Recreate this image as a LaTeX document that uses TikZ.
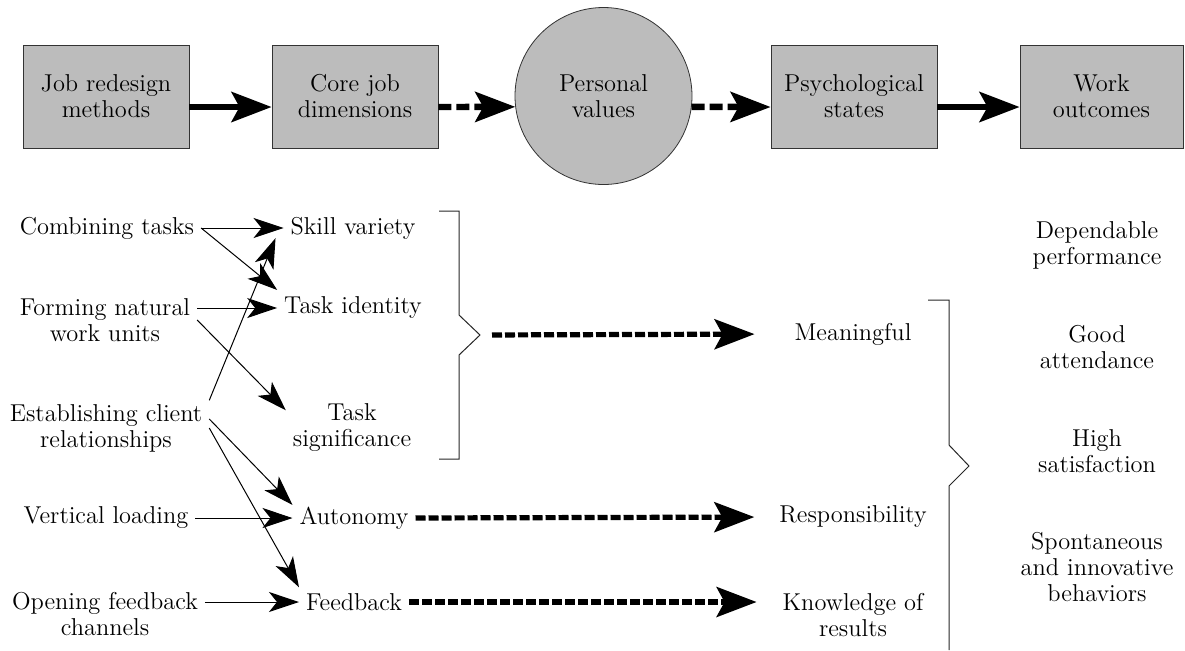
\documentclass[tikz,border=0pt]{standalone}
\usetikzlibrary{arrows.meta}
\definecolor{boxgray}{RGB}{188,188,188}

\begin{document}
\begin{tikzpicture}[x=0.5pt,y=-0.5pt,font=\fontsize{12.2}{13}\selectfont,
  stage/.style={draw=black!80,fill=boxgray,line width=0.4pt,align=center,
    minimum width=83pt,minimum height=51.5pt},
  txt/.style={align=center},
  bigarrow/.style={-{Stealth[length=20pt,width=15pt,inset=4pt]},line width=3.2pt},
  dasharrow/.style={bigarrow,line width=2.6pt,dash pattern=on 5pt off 1.5pt},
  thinarrow/.style={-{Stealth[length=15pt,width=10pt,inset=4pt]},line width=0.5pt},
  brace/.style={line width=0.5pt,draw=black!85}]
  \useasboundingbox (0,0) rectangle (1185,650);

  % chain along the top
  \node[stage] (jrm) at (106,96.5) {Job redesign\\methods};
  \node[stage] (cjd) at (355,96.5) {Core job\\dimensions};
  \node[stage,circle,minimum size=88.5pt,inner sep=0pt] (pv) at (603.5,96) {Personal\\values};
  \node[stage] (ps) at (854,96.5) {Psychological\\states};
  \node[stage,minimum width=81.5pt] (wo) at (1101.5,96.5) {Work\\outcomes};

  \draw[bigarrow] ([yshift=-5.25pt]jrm.east) -- ([yshift=-5.25pt]cjd.west);
  \draw[bigarrow,dash pattern=on 6.5pt off 2.5pt] ([yshift=-5.25pt]cjd.east) -- (pv.187);
  \draw[bigarrow,dash pattern=on 6.5pt off 2.5pt] (pv.353) -- ([yshift=-5.25pt]ps.west);
  \draw[bigarrow] ([yshift=-5.25pt]ps.east) -- ([yshift=-5.25pt]wo.west);

  % methods
  \node[txt] (comb) at (107,228) {Combining tasks};
  \node[txt] (form) at (105,320) {Forming natural\\work units};
  \node[txt] (estab) at (106,428) {Establishing client\\relationships};
  \node[txt] (vert) at (106,518) {Vertical loading};
  \node[txt] (open) at (105,614) {Opening feedback\\channels};

  % core dimensions
  \node[txt] (skill) at (353,228) {Skill variety};
  \node[txt] (ident) at (353,308) {Task identity};
  \node[txt] (signif) at (352,428) {Task\\significance};
  \node[txt] (auton) at (354,518) {Autonomy};
  \node[txt] (feedb) at (354,602) {Feedback};

  % states
  \node[txt] (mean) at (853,334) {Meaningful};
  \node[txt] (resp) at (853,517) {Responsibility};
  \node[txt] (know) at (853,615) {Knowledge of\\results};

  % outcomes
  \node[txt] (dep) at (1097,245) {Dependable\\performance};
  \node[txt] (good) at (1097,347) {Good\\attendance};
  \node[txt] (high) at (1097,451) {High\\satisfaction};
  \node[txt] (spont) at (1097,567) {Spontaneous\\and innovative\\behaviors};

  \draw[thinarrow] (comb.east) -- (skill.west);
  \draw[thinarrow] (comb.east) -- (ident.north west);
  \draw[thinarrow] (form.east |- ident) -- (ident.west);
  \draw[thinarrow] (form.east) -- (signif.165);
  \draw[thinarrow] (estab.15) -- ([shift={(-4pt,4pt)}]skill.south west);
  \draw[thinarrow] (estab.5) -- (auton.168);
  \draw[thinarrow] (estab.east) -- (feedb.165);
  \draw[thinarrow] (vert.east) -- (auton.west);
  \draw[thinarrow] (open.east |- feedb) -- (feedb.west);

  % braces
  \coordinate (kink) at (480,335);
  \draw[brace] (439,211) -| (459,315) -- (kink) -- (459,355) |- (439,459);
  \draw[brace] (928,300) -| (949,445) -- (969,466) -- (949,486) -- (949,650);

  \draw[dasharrow,shorten <=6pt,shorten >=16.5pt] (kink) -- (mean.west);
  \draw[dasharrow,shorten >=9pt] (auton.east) -- (resp.west);
  \draw[dasharrow,shorten >=9.5pt] (feedb.east) -- (feedb.east -| know.west);
\end{tikzpicture}
\end{document}
